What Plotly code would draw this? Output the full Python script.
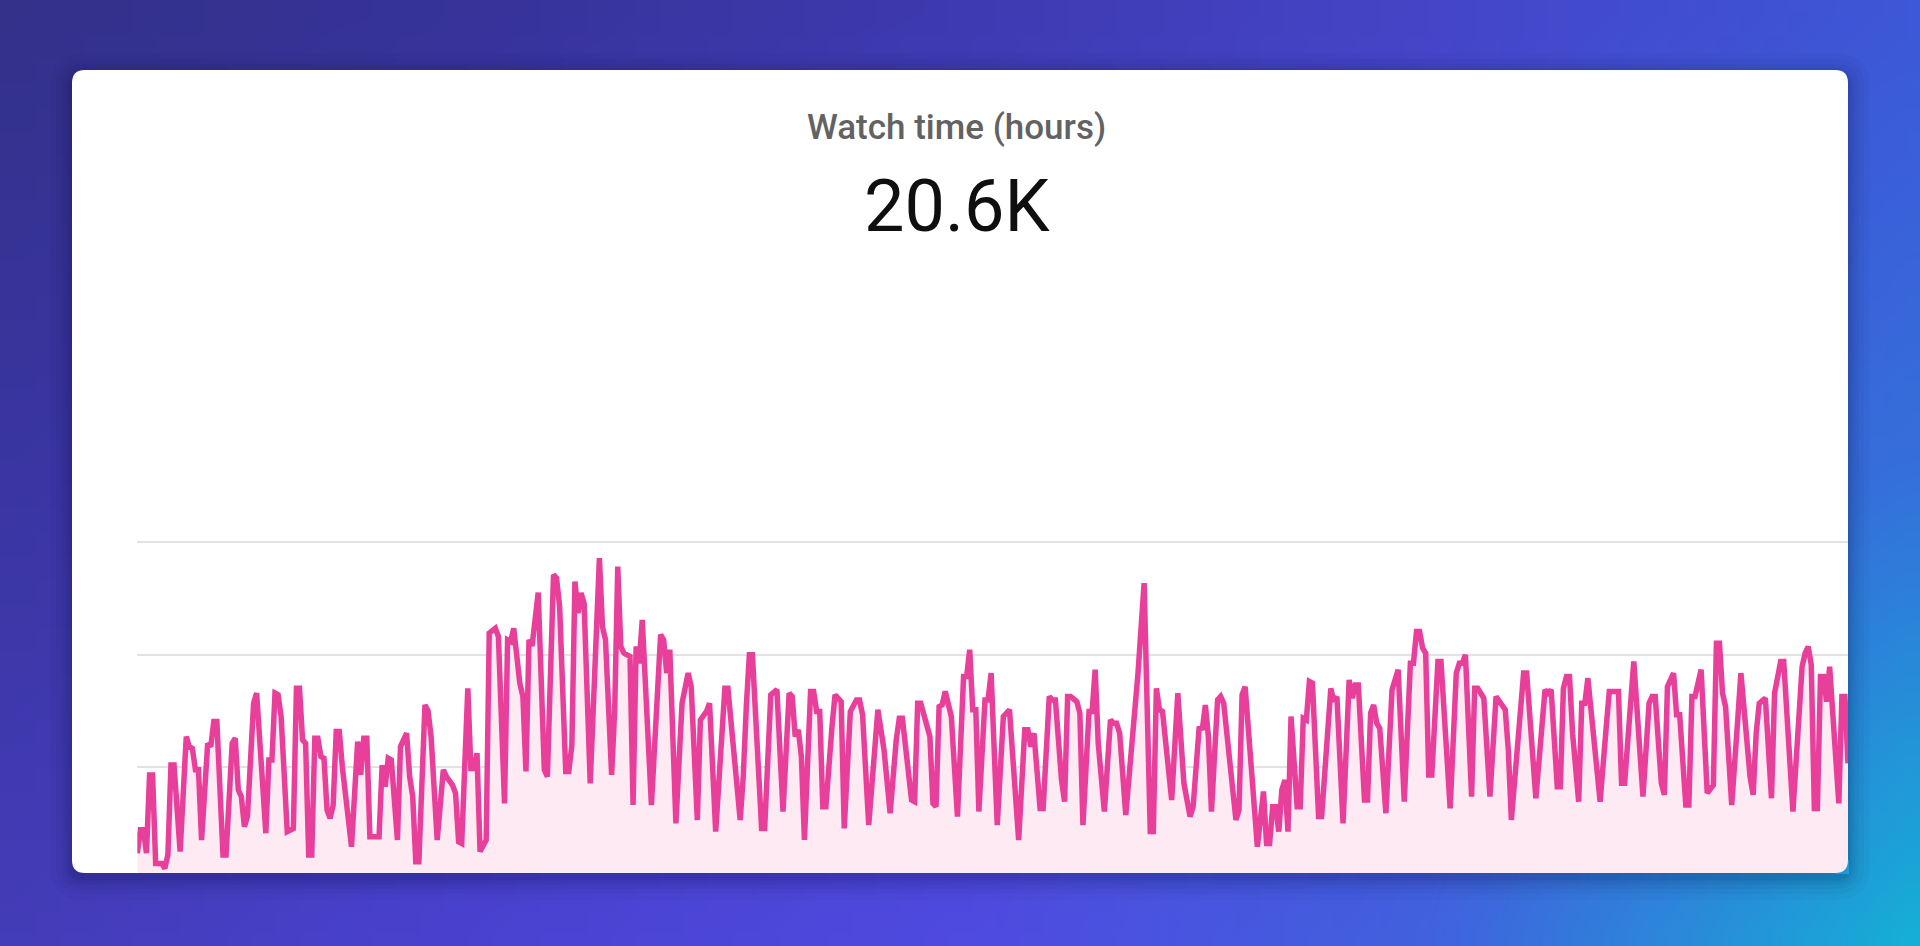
import base64
import struct
import zlib

import plotly.graph_objects as go

# ---------------- data ----------------
metric_title = "Watch time (hours)"
metric_total = "20.6K"

day = [0, 1, 2, 3, 4, 5, 6, 8, 9, 10, 11, 12, 14, 16, 17, 18, 19, 20, 21, 23, 24, 25, 26, 27, 28, 29,
       31, 32, 33, 34, 35, 36, 38, 39, 42, 43, 44, 45, 46, 47, 49, 51, 52, 53, 54, 55, 56, 57, 58, 59,
       60, 61, 62, 63, 64, 65, 66, 67, 70, 72, 73, 74, 75, 76, 79, 80, 81, 82, 83, 85, 86, 88, 89, 90,
       91, 92, 94, 95,
       96, 98, 100, 101, 103, 104, 105, 106, 108, 109, 110, 111, 112, 114, 115, 117, 118, 120, 121,
       122, 123, 125, 126, 127, 128, 129, 130, 131, 133, 134, 136, 137, 138, 140, 141, 142, 143, 144,
       145, 146, 148, 149, 151, 152, 153, 155, 156, 157, 158, 159, 161, 162, 163, 164, 165, 168, 171,
       172, 173, 174, 176, 178, 180, 181, 183, 184, 186, 187, 189,
       192, 193, 197, 198, 199, 200, 201, 203, 204, 205, 207, 209, 211, 213, 214, 215, 216, 217, 218,
       220, 221, 222, 223, 224, 225, 227, 228, 230, 231, 233, 235, 236, 237, 239, 242, 244, 246, 248,
       249, 250, 253, 254, 255, 256, 259, 260, 261, 262, 263, 264, 266, 268, 270, 271, 272, 273, 274,
       275, 277, 278, 279, 281, 283, 285,
       288, 290, 291, 292, 293, 295, 296, 298, 299, 300, 302, 303, 304, 305, 307, 308, 309, 311, 312,
       313, 314, 316, 318, 319, 320, 321, 323, 327, 329, 331, 332, 333, 334, 335, 338, 340, 342, 344,
       345, 347, 348, 349, 350, 351, 353, 354, 355, 359, 360, 361, 362, 366, 368, 369, 370, 371, 372,
       373, 374, 375, 376, 377, 379,
       380, 381, 382, 383, 384, 386, 387, 390, 391, 392, 394, 396, 397, 398, 399, 401, 402, 403, 404,
       405, 406, 408, 410, 412, 414, 416, 417, 418, 419, 420, 421, 422, 423, 425, 426, 429, 431, 432,
       433, 434, 436, 437, 438, 440, 442, 444, 447, 448, 449, 453, 454, 457, 460, 461, 462, 464, 465,
       466, 467, 468, 469, 471, 472, 473, 474,
       478, 480, 481, 484, 485, 486, 489, 492, 494, 495, 496, 498, 499, 500, 502, 503, 504, 506, 507,
       508, 509, 511, 513, 515, 516, 517, 518, 519, 521, 523, 524, 527, 528, 529, 530, 532, 534, 535,
       537, 538, 541, 544, 545, 546, 547, 548, 549, 550, 551, 552, 553, 556, 557, 558, 559]

hours = [9.5, 17.8, 17.8, 9.5, 37.3, 37.3, 5.9, 5.9, 4.1, 8.9, 40.8, 40.8, 10.1, 50.9, 47.3, 46.7,
         39.1, 39.1, 14.2, 48.5, 47.3, 56.2, 56.2, 36.7, 8.9, 8.9, 48.5, 50.3, 32.0, 29.6, 18.9, 22.5,
         62.7, 66.3, 16.6, 42.6, 42.6, 66.3, 65.7, 58.0, 17.2, 18.3, 68.0, 68.0, 49.7, 48.5, 8.9, 8.9,
         50.3, 50.3, 43.8, 43.2, 24.9, 21.9, 26.6, 52.7, 52.7, 40.2, 11.8, 49.1, 37.3, 50.3, 50.3, 15.4,
         15.4, 40.8, 33.1, 43.2, 42.6, 14.2, 47.3, 52.1, 36.7, 29.6, 6.5, 6.5, 62.1, 60.0,
         50.9, 14.2, 39.1, 36.7, 33.7, 30.8, 13.6, 13.0, 68.0, 39.6, 39.6, 45.0, 10.1, 14.2, 87.6, 89.3,
         86.4, 27.2, 85.2, 84.6, 89.3, 69.8, 65.1, 38.5, 85.2, 83.0, 95.0, 102.0, 39.1, 36.7, 108.3,
         107.1, 97.0, 38.5, 38.5, 47.9, 105.9, 94.7, 101.8, 98.2, 34.3, 62.7, 114.2, 89.9, 85.2, 37.3,
         60.4, 111.2, 82.8, 80.5, 79.3, 26.6, 82.8, 76.9, 92.3, 26.6, 87.0, 85.2, 73.4, 81.7, 20.1,
         62.7, 73.4, 68.6, 21.3, 56.8, 59.8, 62.7, 17.2,
         68.0, 68.0, 21.3, 36.7, 61.5, 79.9, 79.9, 32.0, 18.3, 18.3, 65.7, 67.5, 24.3, 66.3, 65.1, 50.9,
         53.3, 43.8, 14.2, 66.9, 66.9, 59.8, 59.8, 26.0, 26.0, 54.4, 65.7, 63.3, 18.3, 59.8, 63.9, 63.9,
         58.6, 19.5, 60.4, 46.2, 23.7, 49.7, 57.4, 57.4, 28.4, 27.8, 62.7, 62.7, 50.9, 27.2, 26.0, 61.5,
         62.1, 66.9, 58.0, 22.5, 72.2, 72.2, 81.7, 60.4, 60.4, 24.3, 63.9, 63.9, 73.4, 19.5, 58.0, 60.4,
         14.2, 53.3, 53.3, 47.3, 52.1, 25.4, 25.4, 65.1, 63.9, 63.9, 35.5, 27.8, 65.1, 65.1, 63.3, 59.2,
         19.5, 59.8, 59.8, 74.6, 48.5, 24.3, 56.8, 55.6, 55.6, 52.1, 23.1, 73.4, 105.3, 17.2, 17.2, 68.0,
         60.4, 59.8, 28.4, 66.3, 34.3, 22.5, 26.0, 54.4, 53.3, 62.1, 50.9, 24.3, 63.9, 65.1, 62.7, 21.3,
         24.9, 65.7, 68.6, 11.8, 31.4, 13.0, 13.0, 26.0, 26.0, 17.2, 32.0, 35.5, 17.2, 58.0, 26.0,
         26.0, 57.4, 56.8, 70.4, 69.8, 22.5, 22.5, 68.0, 63.3, 65.1, 20.1, 71.0, 64.5, 69.2, 69.2, 28.4,
         28.4, 59.2, 62.1, 55.6, 53.8, 23.7, 67.5, 74.6, 27.8, 76.9, 76.9, 88.2, 88.2, 82.2, 80.5, 37.3,
         37.3, 77.5, 77.5, 25.4, 73.4, 76.9, 76.9, 79.9, 29.6, 68.0, 68.0, 64.5, 29.6, 65.1, 60.4, 46.2,
         21.3, 73.4, 73.4, 29.0, 67.5, 66.3, 67.5, 33.1, 33.1, 68.0, 72.2, 72.2, 52.1, 27.8, 62.7, 62.7,
         71.6,
         27.8, 54.4, 66.9, 66.9, 34.3, 34.3, 77.5, 29.6, 62.7, 65.1, 65.1, 34.3, 30.2, 68.6, 73.4, 58.6,
         58.6, 26.6, 26.6, 65.1, 65.1, 74.6, 30.8, 33.7, 84.0, 84.0, 66.3, 61.5, 26.6, 57.4, 73.4, 36.7,
         30.2, 52.1, 62.7, 64.5, 29.0, 66.3, 77.5, 77.5, 24.3, 75.7, 80.5, 82.8, 76.3, 25.4, 25.4, 72.2,
         72.2, 63.3, 75.7, 27.2, 65.1, 65.1, 41.4]

grid_values = [40, 80, 120]

# ---------------- geometry / style ----------------
W, H = 1920, 946
CARD = (72, 70, 1848, 873)   # left, top, right, bottom (px)
RADIUS = 13
PLOT_X0, PLOT_X1 = 137.3, 1848
PLOT_Y_TOP, PLOT_Y_BOT = 500, 873
Y_RANGE = [2.5, 134.8]


def px(x):
    return x / W


def py(y):
    return 1 - y / H


def hex_rgb(h):
    h = h.lstrip("#")
    return tuple(int(h[i:i + 2], 16) for i in (0, 2, 4))


# background gradient control grid (rows: top, middle, bottom)
grad_rows = [
    ["#33318a", "#37339a", "#3e3ab0", "#4545c8", "#3d58d8"],
    ["#3a35a2", "#3f39b5", "#4a44d2", "#4650da", "#3570db"],
    ["#443cb8", "#4a42d0", "#4f4ae0", "#4162de", "#16aed6"],
]
grad_rgb = [[hex_rgb(c) for c in row] for row in grad_rows]


def grad_color(u, v):
    nr, nc = len(grad_rgb), len(grad_rgb[0])
    fx = min(max(u, 0), 1) * (nc - 1)
    fy = min(max(v, 0), 1) * (nr - 1)
    c0, r0 = min(int(fx), nc - 2), min(int(fy), nr - 2)
    tx, ty = fx - c0, fy - r0
    out = []
    for k in range(3):
        a = grad_rgb[r0][c0][k] * (1 - tx) + grad_rgb[r0][c0 + 1][k] * tx
        b = grad_rgb[r0 + 1][c0][k] * (1 - tx) + grad_rgb[r0 + 1][c0 + 1][k] * tx
        out.append(int(round(a * (1 - ty) + b * ty)))
    return tuple(out)


def png_datauri(w, h):
    rows = []
    for j in range(h):
        row = bytearray(b"\x00")
        for i in range(w):
            row.extend(grad_color(i / (w - 1), j / (h - 1)))
        rows.append(bytes(row))
    raw = b"".join(rows)

    def chunk(tag, data):
        return (struct.pack(">I", len(data)) + tag + data
                + struct.pack(">I", zlib.crc32(tag + data) & 0xFFFFFFFF))

    png = (b"\x89PNG\r\n\x1a\n"
           + chunk(b"IHDR", struct.pack(">IIBBBBB", w, h, 8, 2, 0, 0, 0))
           + chunk(b"IDAT", zlib.compress(raw, 9))
           + chunk(b"IEND", b""))
    return "data:image/png;base64," + base64.b64encode(png).decode()


def rrect_path(x0, y0, x1, y1, r):
    pts = [
        ("M", [(x0 + r, y0)]), ("L", [(x1 - r, y0)]), ("Q", [(x1, y0), (x1, y0 + r)]),
        ("L", [(x1, y1 - r)]), ("Q", [(x1, y1), (x1 - r, y1)]), ("L", [(x0 + r, y1)]),
        ("Q", [(x0, y1), (x0, y1 - r)]), ("L", [(x0, y0 + r)]), ("Q", [(x0, y0), (x0 + r, y0)]),
    ]
    s = ""
    for cmd, ps in pts:
        s += cmd + " " + " ".join(f"{px(a):.6f},{py(b):.6f}" for a, b in ps) + " "
    return s + "Z"


shapes = []
# soft shadow
for k, alpha in [(22, 0.025), (16, 0.03), (11, 0.035), (7, 0.04), (4, 0.05), (2, 0.06)]:
    shapes.append(dict(type="path", xref="paper", yref="paper", layer="below",
                       path=rrect_path(CARD[0] - k, CARD[1] - k + 5, CARD[2] + k, CARD[3] + k + 5,
                                       RADIUS + k),
                       fillcolor=f"rgba(10,10,40,{alpha})", line=dict(width=0)))
# card
shapes.append(dict(type="path", xref="paper", yref="paper", layer="below",
                   path=rrect_path(*CARD, RADIUS), fillcolor="#ffffff", line=dict(width=0)))
# bottom-right rounded corner clip of the chart fill
cx1, cy1 = CARD[2], CARD[3]
corner_col = "rgb(%d,%d,%d)" % grad_color(px(cx1 - 4), (cy1 - 4) / H)
corner_path = (f"M {px(cx1 + 1):.6f},{py(cy1 - RADIUS):.6f} L {px(cx1):.6f},{py(cy1 - RADIUS):.6f} "
               f"Q {px(cx1):.6f},{py(cy1):.6f} {px(cx1 - RADIUS):.6f},{py(cy1):.6f} "
               f"L {px(cx1 - RADIUS):.6f},{py(cy1 + 1):.6f} L {px(cx1 + 1):.6f},{py(cy1 + 1):.6f} Z")
shapes.append(dict(type="path", xref="paper", yref="paper", layer="above",
                   path=corner_path, fillcolor=corner_col, line=dict(width=0)))

fig = go.Figure()
fig.add_trace(go.Scatter(
    x=day, y=hours, mode="lines",
    line=dict(color="#e8409a", width=5.5, shape="linear"),
    fill="tozeroy", fillcolor="#fdeaf3",
    hoverinfo="skip", showlegend=False,
))

fig.update_layout(
    width=W, height=H, autosize=False,
    margin=dict(l=0, r=0, t=0, b=0, pad=0),
    paper_bgcolor="rgba(0,0,0,0)", plot_bgcolor="rgba(0,0,0,0)",
    images=[dict(source=png_datauri(80, 40), xref="paper", yref="paper", x=0, y=1,
                 sizex=1, sizey=1, xanchor="left", yanchor="top", sizing="stretch",
                 layer="below")],
    shapes=shapes,
    xaxis=dict(domain=[px(PLOT_X0), px(PLOT_X1)], range=[0, 559], visible=False,
               fixedrange=True),
    yaxis=dict(domain=[py(PLOT_Y_BOT), py(PLOT_Y_TOP)], range=Y_RANGE, tickvals=grid_values,
               showticklabels=False, ticks="", showgrid=True, gridcolor="#e2e2e2", gridwidth=2,
               zeroline=False, showline=False, fixedrange=True),
    annotations=[
        dict(text=metric_title, xref="paper", yref="paper", x=px(956), y=py(128),
             xanchor="center", yanchor="middle", showarrow=False,
             font=dict(family="Roboto, Arial, sans-serif", size=35, color="#626262", weight=500)),
        dict(text=metric_total, xref="paper", yref="paper", x=px(957), y=py(206),
             xanchor="center", yanchor="middle", showarrow=False,
             font=dict(family="Roboto, Arial, sans-serif", size=72, color="#0f0f0f")),
    ],
)

fig.write_html("out.html", config={"displayModeBar": False, "staticPlot": True},
               post_script="document.body.style.margin='0';document.body.style.overflow='hidden';")
